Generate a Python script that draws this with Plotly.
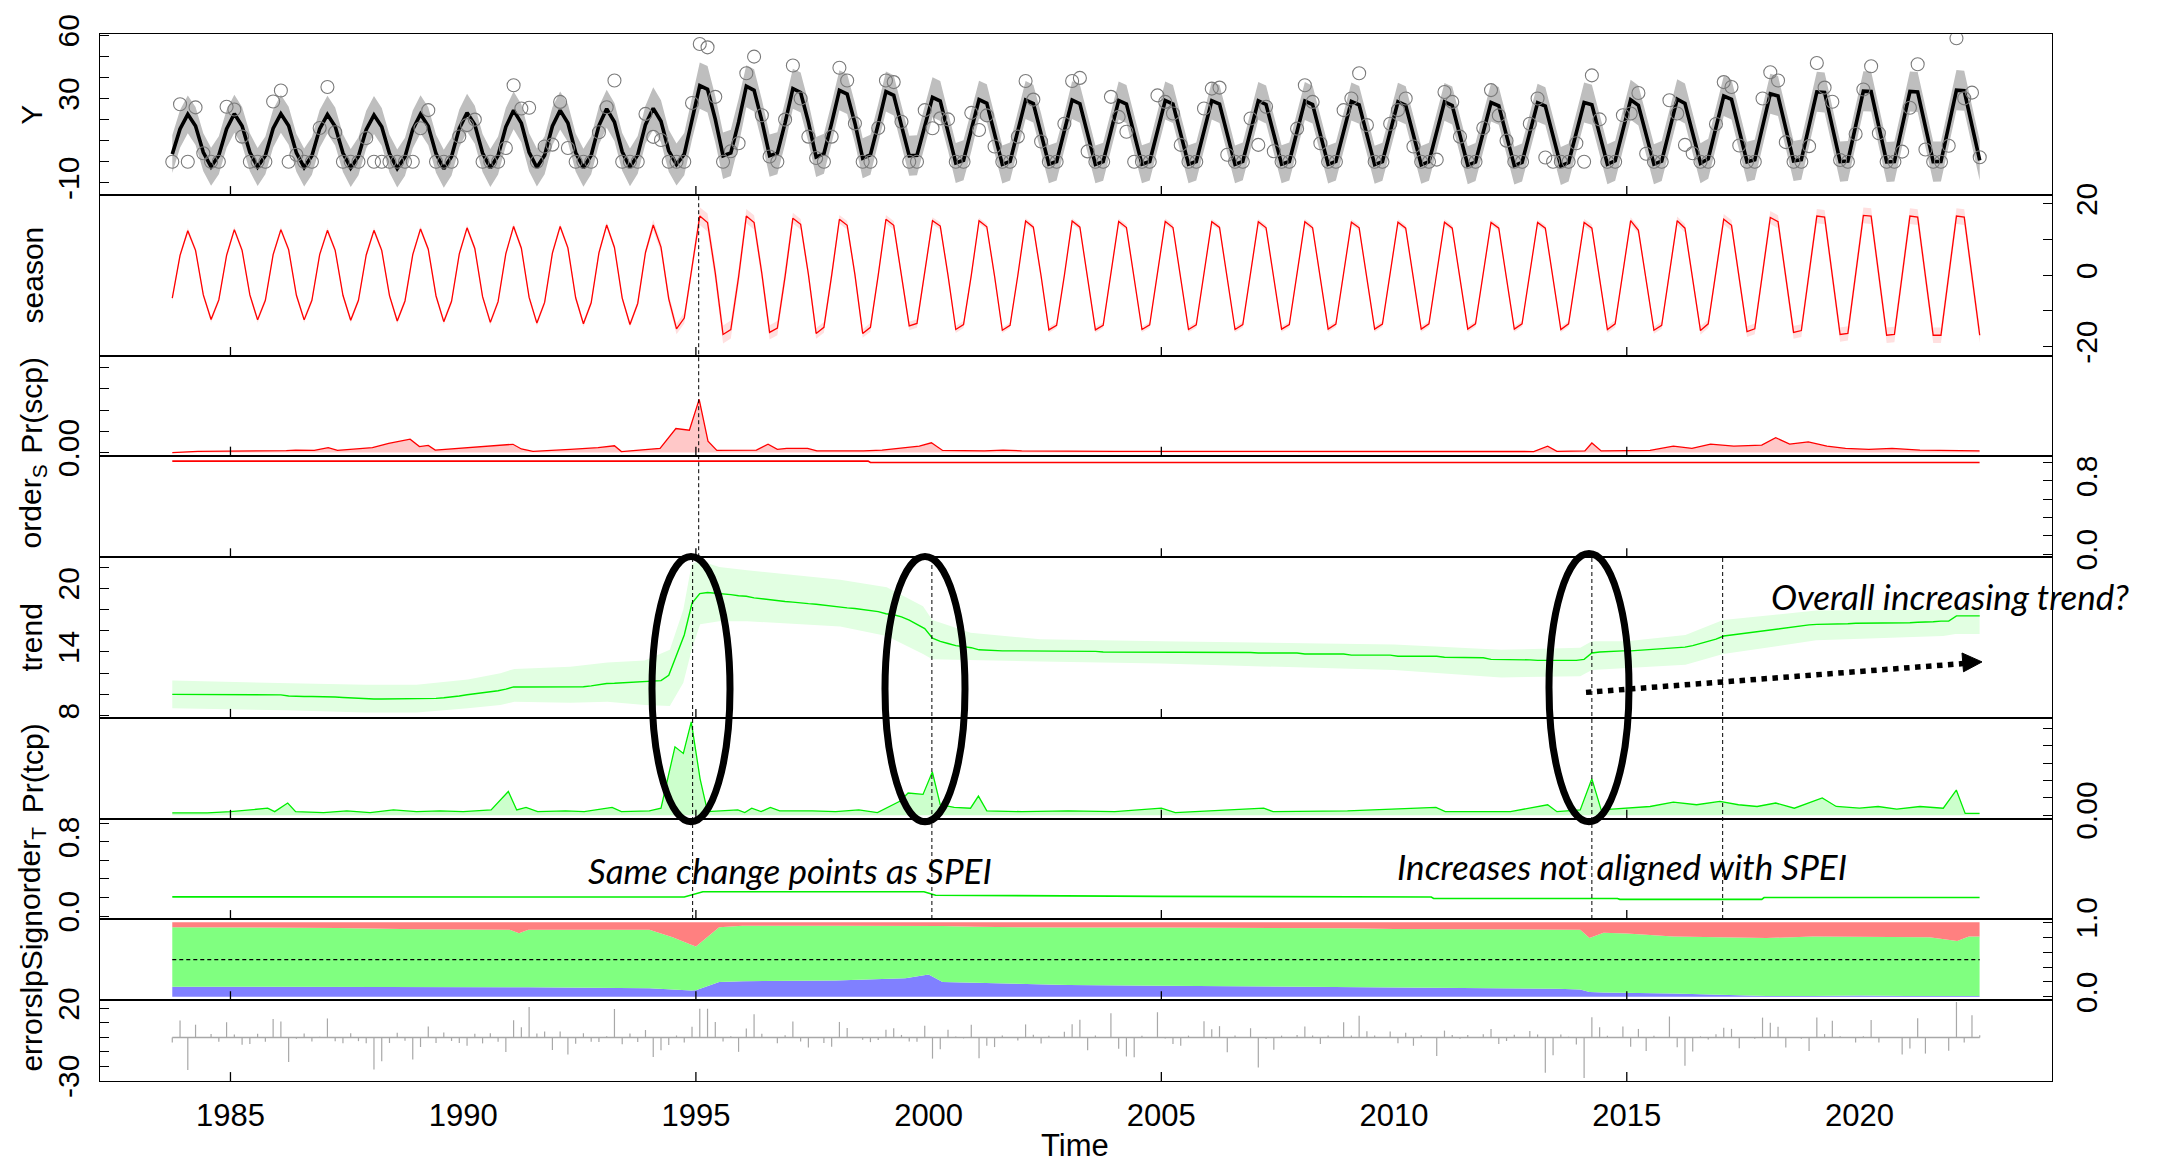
import numpy as np
import plotly.graph_objects as go

# ---------------- DATA ----------------
T_START = 1983.75          # first observation (bimonthly series)
STEP = 1.0 / 6.0

# observations Y, one row per year; positions .083 .25 .417 .583 .75 .917
obs_rows = [
    [0, 27.3],                                  # 1983 (.75, .917)
    [0, 25.8, 4, 0, 0, 26.1],                   # 1984
    [24.8, 11.9, 0, 0, 0, 28.6],                # 1985
    [33.8, 0, 3.3, 0, 0, 16],                   # 1986
    [35.5, 14, 0, 0, 0, 11.2],                  # 1987
    [0, 0, 0, 0, 0, 0],                         # 1988
    [15.9, 24.5, 0, 0, 0, 12],                  # 1989
    [17.4, 20, 0, 0, 0, 6.5],                   # 1990
    [36.3, 25.3, 25.6, 0, 7.2, 8.1],            # 1991
    [28.4, 6.5, 0, 0, 0, 14],                   # 1992
    [25.9, 38.6, 0, 0, 0, 22.7],                # 1993
    [11.8, 10.3, 0, 0, 0, 27.9],                # 1994
    [55.9, 54.3, 30.8, 0, 5, 8.8],              # 1995
    [42, 49.9, 22.1, 2.5, 0, 20],               # 1996
    [45.7, 30, 11.9, 1.8, 0, 11.9],             # 1997
    [44.6, 38.6, 18.2, 0, 0, 16],               # 1998
    [38.6, 37.8, 19, 0, 0, 24.5],               # 1999
    [15.9, 20.6, 20.1, 0, 0, 23.2],             # 2000
    [15.1, 22, 7.2, 0, 0, 11.9],                # 2001
    [38.3, 29.5, 9.6, 0, 0, 18],                # 2002
    [38.3, 39.8, 4.9, 0, 0, 30.8],              # 2003
    [21.3, 14.2, 0, 0, 0, 31.5],                # 2004
    [28.4, 22.9, 8, 0, 0, 25.3],                # 2005
    [34.7, 35.2, 3.3, 0, 0, 20.5],              # 2006
    [8, 26.1, 5, 0, 0, 15.7],                   # 2007
    [36.3, 28.4, 8.8, 0, 0, 24.5],              # 2008
    [30, 42, 17.4, 0, 0, 18],                   # 2009
    [24.5, 30, 7.2, 0, 0, 1],                   # 2010
    [33.1, 28.4, 11.9, 0, 0, 16],               # 2011
    [34, 22, 10, 0, 0, 18],                     # 2012
    [30, 2, 0, 0, 0, 8.8],                      # 2013
    [0, 41, 20.1, 0, 0, 22.1],                  # 2014
    [22.9, 32.6, 3.8, 0, 0, 29.2],              # 2015
    [22.9, 8, 4, 0, 0, 17.9],                   # 2016
    [37.8, 35.5, 7.7, 0, 0, 30],                # 2017
    [42.5, 38.6, 9.3, 0, 0, 7.4],               # 2018
    [46.9, 35.2, 28.5, 0.8, 0, 13.2],           # 2019
    [34.3, 45.3, 13.5, 0, 0, 4.8],              # 2020
    [25.6, 46.3, 5.8, 0, 0, 7.6],               # 2021
    [58.6, 30.1, 32.8, 2.1],                    # 2022 (.083-.583)
]

# seasonal component
season_rows = [
    [-6.4, 5.6],
    [12.5, 7.0, -5.5, -12.4, -6.9, 5.6],
    [12.8, 7.0, -5.5, -12.5, -7.0, 5.8],
    [12.8, 7.2, -5.6, -12.5, -7.0, 5.8],
    [12.6, 7.0, -5.6, -12.6, -7.0, 5.7],
    [12.6, 7.0, -5.7, -12.8, -7.2, 5.8],
    [13.0, 7.3, -5.8, -13.0, -7.3, 6.0],
    [13.3, 7.5, -6.0, -13.2, -7.4, 6.1],
    [13.7, 7.6, -6.2, -13.4, -7.6, 6.2],
    [13.7, 7.7, -6.3, -13.6, -7.7, 6.3],
    [14.1, 7.8, -6.4, -13.8, -7.9, 6.4],
    [14.1, 7.9, -6.6, -15.0, -12.0, 2.0],
    [16.6, 14.8, 0.6, -16.6, -15.2, -0.5],
    [16.6, 14.8, 0.5, -16.0, -14.8, -0.3],
    [16.0, 14.3, 0.3, -16.3, -14.6, 0.0],
    [15.7, 14.0, 0.2, -16.3, -14.6, 0.0],
    [15.7, 14.0, 0.0, -14.2, -13.5, 0.3],
    [15.3, 13.8, 0.0, -15.2, -13.8, 0.0],
    [15.3, 13.6, -0.2, -15.4, -14.0, 0.0],
    [15.2, 13.5, -0.2, -15.3, -14.0, 0.0],
    [15.2, 13.5, -0.3, -15.3, -14.0, 0.1],
    [15.1, 13.4, -0.3, -15.2, -13.9, 0.1],
    [15.1, 13.4, -0.3, -15.2, -13.9, 0.1],
    [15.0, 13.4, -0.4, -15.2, -13.8, 0.2],
    [15.0, 13.3, -0.4, -15.1, -13.8, 0.2],
    [15.0, 13.3, -0.5, -15.1, -13.7, 0.2],
    [14.9, 13.3, -0.5, -15.1, -13.7, 0.3],
    [14.9, 13.2, -0.6, -15.1, -13.6, 0.3],
    [14.9, 13.2, -0.7, -15.1, -13.6, 0.4],
    [14.8, 13.2, -0.8, -15.1, -13.6, 0.4],
    [14.8, 13.2, -0.9, -15.2, -13.6, 0.5],
    [14.8, 13.2, -1.0, -15.2, -13.6, 0.5],
    [15.3, 12.6, -1.0, -15.4, -14.0, 0.3],
    [15.3, 13.2, -0.8, -15.5, -13.6, 0.5],
    [15.7, 14.0, -0.5, -15.8, -15.0, 0.3],
    [16.2, 15.0, 0.0, -16.0, -15.5, 0.3],
    [16.6, 16.3, 0.3, -16.6, -16.3, 0.0],
    [16.8, 16.6, 0.3, -16.8, -16.6, 0.0],
    [16.6, 16.3, 0.2, -16.8, -16.8, 0.0],
    [16.6, 16.3, 0.0, -16.8],
]

# trend component
trend_rows = [
    [10.0, 10.0],
    [10.0, 10.0, 10.0, 10.0, 10.0, 10.0],
    [10.0, 10.0, 10.0, 10.0, 10.0, 10.0],
    [9.95, 9.85, 9.8, 9.8, 9.8, 9.8],
    [9.78, 9.75, 9.7, 9.65, 9.6, 9.56],
    [9.56, 9.56, 9.56, 9.56, 9.56, 9.56],
    [9.56, 9.58, 9.62, 9.68, 9.75, 9.85],
    [9.97, 10.05, 10.15, 10.25, 10.34, 10.5],
    [10.7, 10.7, 10.7, 10.68, 10.68, 10.67],
    [10.66, 10.65, 10.65, 10.72, 10.8, 10.9],
    [11.03, 11.05, 11.1, 11.12, 11.15, 11.2],
    [11.25, 11.3, 11.8, 13.7, 15.6, 18.6],
    [19.5, 19.6, 19.55, 19.45, 19.4, 19.3],
    [19.25, 19.1, 19.0, 18.9, 18.85, 18.75],
    [18.7, 18.6, 18.55, 18.5, 18.4, 18.35],
    [18.2, 18.15, 18.1, 18.0, 17.9, 17.8],
    [17.6, 17.5, 17.3, 17.0, 16.6, 16.2],
    [15.3, 15.0, 14.8, 14.6, 14.5, 14.4],
    [14.2, 14.15, 14.1, 14.1, 14.1, 14.1],
    [14.1, 14.1, 14.1, 14.1, 14.1, 14.05],
    [14.05, 14.05, 14.05, 14.05, 14.0, 14.0],
    [14.0, 14.0, 14.0, 14.0, 14.0, 14.0],
    [14.0, 14.0, 14.0, 14.0, 14.0, 14.0],
    [14.0, 14.0, 13.95, 13.95, 13.95, 13.95],
    [13.9, 13.9, 13.9, 13.9, 13.9, 13.9],
    [13.8, 13.8, 13.8, 13.8, 13.8, 13.8],
    [13.7, 13.7, 13.7, 13.7, 13.7, 13.7],
    [13.6, 13.6, 13.6, 13.6, 13.6, 13.6],
    [13.5, 13.5, 13.5, 13.45, 13.45, 13.45],
    [13.3, 13.3, 13.3, 13.25, 13.25, 13.25],
    [13.2, 13.2, 13.2, 13.2, 13.2, 13.2],
    [13.3, 13.9, 14.0, 14.05, 14.05, 14.1],
    [14.1, 14.15, 14.2, 14.25, 14.3, 14.35],
    [14.4, 14.45, 14.6, 14.8, 15.0, 15.2],
    [15.5, 15.6, 15.7, 15.8, 15.9, 16.0],
    [16.1, 16.2, 16.3, 16.4, 16.5, 16.55],
    [16.6, 16.6, 16.6, 16.65, 16.65, 16.7],
    [16.7, 16.7, 16.7, 16.7, 16.7, 16.7],
    [16.75, 16.8, 16.8, 16.85, 16.9, 16.9],
    [17.4, 17.4, 17.4, 17.4],
]

# half-widths of the grey Y band and pink season band, per calendar year 1983..2022
y_band_half = [9, 9, 9, 9, 9, 9, 9, 9, 9, 9, 9, 10, 11, 10, 9.5, 9.5, 9.5, 9.5, 9, 9,
               9, 9, 9, 9, 9, 9, 9, 9, 9, 9, 9, 9.5, 9.5, 9.5, 9.5, 9.5, 9.5, 9.5, 9.5, 9.5]
season_band_half = [0.8, 0.8, 0.8, 0.8, 0.8, 0.8, 0.8, 0.8, 0.8, 0.8, 0.8, 1.5, 2.5, 2.0, 1.5,
                    1.2, 1.2, 1.0, 0.8, 0.8, 0.8, 0.8, 0.8, 0.8, 0.8, 0.8, 0.8, 0.8, 0.8, 0.8,
                    0.8, 1.0, 1.0, 1.2, 1.5, 1.8, 2.0, 2.2, 2.2, 2.2]

# trend credible band
trend_ci_t = [1983.75, 1986.2, 1987.9, 1989.0, 1990.1, 1990.8, 1991.1, 1992.3, 1993.1, 1993.9,
              1994.44, 1994.73, 1994.91, 1995.09, 1995.5, 1996.1, 1998.1, 1999.1, 1999.88,
              2000.08, 2000.9, 2002.4, 2005.0, 2010.0, 2012.3, 2014.0, 2014.25, 2015.0,
              2016.26, 2017.07, 2019.07, 2021.8, 2022.06, 2022.58]
trend_ci_lo = [8.7, 8.5, 8.3, 8.3, 8.7, 9.0, 9.3, 9.2, 9.3, 9.0, 8.9, 11.1, 14.2, 16.6, 16.9,
               16.9, 16.4, 15.5, 13.8, 13.3, 13.2, 13.1, 12.9, 12.3, 11.6, 11.7, 12.3, 12.5,
               12.8, 13.8, 15.1, 15.5, 15.7, 15.7]
trend_ci_hi = [11.3, 11.1, 10.9, 10.9, 11.4, 12.0, 12.4, 12.6, 13.0, 13.2, 14.2, 18.0, 22.3,
               22.6, 22.0, 21.7, 20.8, 20.1, 18.3, 17.0, 15.8, 15.2, 15.0, 14.7, 14.2, 14.4,
               15.0, 15.0, 15.6, 17.0, 17.9, 18.0, 18.1, 18.1]

# probability of seasonal change point
pscp_t = [1983.75, 1984.3, 1986.2, 1986.4, 1986.8, 1987.1, 1987.3, 1988.05, 1988.4, 1988.86,
          1989.06, 1989.25, 1989.4, 1990.5, 1991.07, 1991.25, 1991.5, 1992.3, 1992.9, 1993.25,
          1993.4, 1994.23, 1994.57, 1994.86, 1995.07, 1995.26, 1995.45, 1996.3, 1996.55,
          1996.75, 1996.95, 1997.4, 1997.6, 1998.6, 1999.0, 1999.8, 2000.06, 2000.3, 2001.2,
          2001.6, 2002.0, 2004.0, 2008.0, 2013.0, 2013.3, 2013.5, 2014.1, 2014.25, 2014.45,
          2015.5, 2016.0, 2016.4, 2016.8, 2017.3, 2017.9, 2018.2, 2018.5, 2018.9, 2019.3,
          2019.7, 2020.2, 2020.7, 2021.3, 2022.0, 2022.58]
pscp_v = [0.0, 0.006, 0.009, 0.012, 0.01, 0.023, 0.01, 0.023, 0.043, 0.063, 0.028, 0.034,
          0.012, 0.032, 0.039, 0.017, 0.006, 0.015, 0.023, 0.032, 0.005, 0.02, 0.113, 0.105,
          0.25, 0.054, 0.01, 0.012, 0.039, 0.015, 0.02, 0.02, 0.008, 0.008, 0.012, 0.03,
          0.046, 0.01, 0.008, 0.012, 0.008, 0.006, 0.005, 0.005, 0.03, 0.006, 0.008, 0.045,
          0.008, 0.01, 0.03, 0.02, 0.04, 0.03, 0.035, 0.07, 0.04, 0.05, 0.03, 0.02, 0.015,
          0.02, 0.012, 0.01, 0.008]

# seasonal harmonic order
orders_t = [1983.75, 1998.7, 1998.75, 2022.58]
orders_v = [1.015, 1.015, 1.0, 1.0]

# probability of trend change point
ptcp_t = [1983.75, 1984.5, 1985.0, 1985.8, 1985.95, 1986.23, 1986.4, 1987.0, 1987.5, 1988.0,
          1988.5, 1989.0, 1989.5, 1990.0, 1990.6, 1990.97, 1991.15, 1991.35, 1991.6, 1992.2,
          1992.6, 1993.2, 1993.4, 1994.0, 1994.25, 1994.55, 1994.73, 1994.9, 1995.09, 1995.25,
          1995.9, 1996.05, 1996.2, 1996.4, 1996.6, 1996.8, 1997.5, 1998.0, 1998.5, 1998.9,
          1999.38, 1999.56, 1999.88, 2000.08, 2000.25, 2000.55, 2000.9, 2001.07, 2001.25,
          2002.0, 2003.0, 2004.0, 2005.0, 2005.3, 2007.2, 2007.4, 2009.0, 2010.9, 2011.1,
          2012.5, 2013.3, 2013.5, 2014.0, 2014.25, 2014.45, 2015.0, 2015.5, 2016.0, 2016.5,
          2017.0, 2017.4, 2017.8, 2018.2, 2018.6, 2019.2, 2019.5, 2020.0, 2020.4, 2020.8,
          2021.3, 2021.8, 2022.08, 2022.27, 2022.58]
ptcp_v = [0.013, 0.013, 0.02, 0.04, 0.02, 0.07, 0.02, 0.015, 0.025, 0.015, 0.03, 0.02, 0.025,
          0.02, 0.03, 0.137, 0.03, 0.045, 0.02, 0.025, 0.02, 0.045, 0.02, 0.025, 0.04, 0.395,
          0.357, 0.54, 0.21, 0.02, 0.03, 0.015, 0.04, 0.02, 0.045, 0.025, 0.025, 0.02, 0.03,
          0.015, 0.08, 0.128, 0.12, 0.25, 0.06, 0.045, 0.04, 0.11, 0.025, 0.02, 0.025, 0.02,
          0.04, 0.015, 0.04, 0.02, 0.025, 0.045, 0.02, 0.02, 0.06, 0.02, 0.03, 0.21, 0.03,
          0.04, 0.05, 0.075, 0.06, 0.08, 0.06, 0.05, 0.07, 0.04, 0.1, 0.05, 0.04, 0.05, 0.035,
          0.05, 0.04, 0.145, 0.01, 0.01]

# trend polynomial order
ordert_t = [1983.75, 1985.1, 1985.2, 1994.75, 1995.15, 1999.9, 2000.15, 2001.5, 2005.0,
            2010.8, 2010.85, 2014.8, 2014.85, 2017.9, 2017.95, 2022.58]
ordert_v = [0.207, 0.207, 0.2, 0.205, 0.262, 0.262, 0.225, 0.22, 0.212, 0.205, 0.19, 0.19,
            0.18, 0.18, 0.2, 0.2]

# slope-sign probabilities (negative = blue, positive = red, remainder zero = green)
slp_t = [1983.75, 1986.0, 1987.3, 1989.0, 1991.0, 1991.2, 1991.4, 1994.0, 1994.5, 1994.9,
         1995.0, 1995.5, 1996.0, 1998.0, 1999.5, 2000.0, 2000.3, 2001.0, 2002.0, 2003.0,
         2005.0, 2006.0, 2009.0, 2010.0, 2011.0, 2013.5, 2014.0, 2014.2, 2014.5, 2015.0,
         2016.0, 2017.0, 2018.0, 2019.0, 2020.0, 2021.0, 2021.5, 2022.1, 2022.35, 2022.58]
slp_neg = [0.137, 0.137, 0.13, 0.128, 0.128, 0.128, 0.128, 0.115, 0.095, 0.085, 0.09, 0.2,
           0.21, 0.22, 0.25, 0.30, 0.20, 0.19, 0.17, 0.16, 0.15, 0.146, 0.135, 0.13, 0.124,
           0.11, 0.1, 0.066, 0.06, 0.057, 0.044, 0.027, 0.013, 0.013, 0.02, 0.013, 0.013,
           0.012, 0.012, 0.012]
slp_pos = [0.066, 0.066, 0.075, 0.093, 0.1, 0.146, 0.1, 0.1, 0.2, 0.3, 0.323, 0.066, 0.044,
           0.044, 0.044, 0.044, 0.05, 0.06, 0.07, 0.07, 0.07, 0.07, 0.08, 0.09, 0.09, 0.1,
           0.1, 0.21, 0.14, 0.15, 0.19, 0.2, 0.21, 0.19, 0.19, 0.19, 0.2, 0.25, 0.19, 0.19]

# detected change points
season_cp = [1995.06]
trend_cp = [1994.93, 2000.07, 2014.25, 2017.06]

# axis ticks / labels
x_label_years = [1985, 1990, 1995, 2000, 2005, 2010, 2015, 2020]
x_tick_years = [1985, 1995, 2005, 2015]
panel_names = ["Y", "season", "Pr(scp)", "order<sub>S</sub>", "trend", "Pr(tcp)",
               "order<sub>T</sub>", "slpSign", "error"]
# labelled y ticks per panel, and spacing of the unlabelled ticks between them
y_label_vals = [[-10, 30, 60], [-20, 0, 20], [0], [0, 0.8], [8, 14, 20], [0], [0, 0.8],
                [0, 1.0], [-30, 20]]
y_label_text = [["-10", "30", "60"], ["-20", "0", "20"], ["0.00"], ["0.0", "0.8"],
                ["8", "14", "20"], ["0.00"], ["0.0", "0.8"], ["0.0", "1.0"], ["-30", "20"]]
y_tick_step = [10, 10, 0.1, 0.2, 2, 0.1, 0.2, 0.2, 10]

# ---------------- derived series ----------------
obs = np.array([v for r in obs_rows for v in r], dtype=float)
season = np.array([v for r in season_rows for v in r], dtype=float)
trend = np.array([v for r in trend_rows for v in r], dtype=float)
n = len(season)
t = T_START + np.arange(n) * STEP
year_idx = np.floor(t + 1e-6).astype(int) - 1983
fitted = season + trend
yb = np.array(y_band_half)[year_idx]
sb = np.array(season_band_half)[year_idx]
err = obs - fitted

# ---------------- layout geometry (pixels) ----------------
W, H = 2161, 1163
ML, MR, MT, MB = 100, 109, 23, 82
PW, PH = W - ML - MR, H - MT - MB
edges = [23.3, 185.7, 348.3, 449.0, 551.7, 714.0, 816.0, 917.3, 999.3, 1081.0]
XR = [1982.197, 2024.136]
y_ranges = [[-15.8, 60.5], [-22.6, 22.5], [-0.014, 0.454], [-0.032, 1.075],
            [7.79, 22.93], [-0.021, 0.563], [-0.032, 1.05], [-0.044, 1.045], [-30.2, 25.8]]
sides = ["left", "right", "left", "right", "left", "right", "left", "right", "left"]


def py(p):  # pixel row -> paper y
    return (H - MB - p) / PH


def px(p):  # pixel column -> paper x
    return (p - ML) / PW


FONT = "Liberation Sans, Arial, sans-serif"
fig = go.Figure()


def ax(k):
    return ("x" if k == 1 else f"x{k}"), ("y" if k == 1 else f"y{k}")


def add(k, **kw):
    xa, ya = ax(k)
    kw.setdefault("hoverinfo", "skip")
    kw.setdefault("showlegend", False)
    fig.add_trace(go.Scatter(xaxis=xa, yaxis=ya, **kw))


# Panel 1: Y
add(1, x=np.concatenate([t, t[::-1]]), y=np.concatenate([fitted + yb, (fitted - yb)[::-1]]),
    fill="toself", fillcolor="#BEBEBE", line=dict(width=0), mode="lines")
add(1, x=t, y=fitted, mode="lines", line=dict(color="black", width=3.6))
add(1, x=t, y=obs, mode="markers",
    marker=dict(symbol="circle-open", size=13, color="#7A7A7A", line=dict(width=1.1, color="#7A7A7A")))
# Panel 2: season
add(2, x=np.concatenate([t, t[::-1]]), y=np.concatenate([season + sb, (season - sb)[::-1]]),
    fill="toself", fillcolor="#FFE0E0", line=dict(width=0), mode="lines")
add(2, x=t, y=season, mode="lines", line=dict(color="#FF0000", width=1.3))
# Panel 3: Pr(scp)
add(3, x=pscp_t, y=pscp_v, mode="lines", fill="tozeroy", fillcolor="#FFC8C8",
    line=dict(color="#FF0000", width=1.3))
# Panel 4: order S
add(4, x=orders_t, y=orders_v, mode="lines", line=dict(color="#FF0000", width=1.6))
# Panel 5: trend
add(5, x=trend_ci_t + trend_ci_t[::-1], y=trend_ci_hi + trend_ci_lo[::-1],
    fill="toself", fillcolor="#E2FFE2", line=dict(width=0), mode="lines")
add(5, x=t, y=trend, mode="lines", line=dict(color="#00EE00", width=1.4))
# Panel 6: Pr(tcp)
add(6, x=ptcp_t, y=ptcp_v, mode="lines", fill="tozeroy", fillcolor="#CCFFCC",
    line=dict(color="#00EE00", width=1.3))
# Panel 7: order T
add(7, x=ordert_t, y=ordert_v, mode="lines", line=dict(color="#00EE00", width=1.6))
# Panel 8: slope sign
slp_neg_a = np.array(slp_neg)
slp_top_zero = 1.0 - np.array(slp_pos)
add(8, x=slp_t, y=slp_neg_a, mode="lines", fill="tozeroy", fillcolor="#8080FF", line=dict(width=0))
add(8, x=slp_t, y=slp_top_zero, mode="lines", fill="tonexty", fillcolor="#80FF80", line=dict(width=0))
add(8, x=slp_t, y=np.ones(len(slp_t)), mode="lines", fill="tonexty", fillcolor="#FF8080",
    line=dict(width=0))
add(8, x=[t[0], t[-1]], y=[0.5, 0.5], mode="lines", line=dict(color="black", width=1.2, dash="4px,3px"))
# Panel 9: error
ex, ey = [], []
for ti, ei in zip(t, err):
    ex += [ti, ti, None]
    ey += [0, ei, None]
add(9, x=ex, y=ey, mode="lines", line=dict(color="#A8A8A8", width=1.2))
add(9, x=[t[0], t[-1]], y=[0, 0], mode="lines", line=dict(color="#A8A8A8", width=1.5))

# ---------------- axes ----------------
layout = dict(width=W, height=H, margin=dict(l=ML, r=MR, t=MT, b=MB),
              paper_bgcolor="white", plot_bgcolor="white", showlegend=False,
              font=dict(family=FONT, color="black"))
for k in range(1, 10):
    top, bot = edges[k - 1], edges[k]
    xa, ya = ax(k)
    xkey = "xaxis" if k == 1 else f"xaxis{k}"
    ykey = "yaxis" if k == 1 else f"yaxis{k}"
    layout[xkey] = dict(domain=[0, 1], range=XR, anchor=ya, showline=True, mirror=True,
                        linecolor="black", linewidth=1, showgrid=False, zeroline=False,
                        ticks="", showticklabels=(k == 9), tickmode="array",
                        tickvals=x_label_years, ticktext=[str(v) for v in x_label_years],
                        tickfont=dict(size=31, family=FONT), ticklabelstandoff=7)
    layout[ykey] = dict(domain=[py(bot), py(top)], range=y_ranges[k - 1], anchor=xa,
                        side=sides[k - 1], showline=True, mirror=True, linecolor="black",
                        linewidth=1, showgrid=False, zeroline=False, ticks="inside",
                        ticklen=9, tickwidth=1.2, tickcolor="black", tickmode="array",
                        tickvals=y_label_vals[k - 1], ticktext=y_label_text[k - 1],
                        tickangle=-90, tickfont=dict(size=30, family=FONT),
                        ticklabelstandoff=8,
                        minor=dict(ticks="inside", ticklen=9, tickwidth=1.2, tickcolor="black",
                                   tickmode="linear", tick0=0, dtick=y_tick_step[k - 1],
                                   showgrid=False))
fig.update_layout(**layout)

shapes = []
# inward x ticks at the bottom of every panel
for k in range(1, 10):
    bot = edges[k]
    for yv in x_tick_years:
        shapes.append(dict(type="line", xref="x", yref="paper", x0=yv, x1=yv,
                           y0=py(bot), y1=py(bot - 9), line=dict(color="black", width=1.3)))
# change-point dashed lines
for cp in season_cp:
    shapes.append(dict(type="line", xref="x", yref="paper", x0=cp, x1=cp,
                       y0=py(edges[4]), y1=py(edges[1]),
                       line=dict(color="black", width=1, dash="4px,3px")))
for cp in trend_cp:
    shapes.append(dict(type="line", xref="x", yref="paper", x0=cp, x1=cp,
                       y0=py(edges[7]), y1=py(edges[4]),
                       line=dict(color="black", width=1, dash="4px,3px")))
# hand-drawn ellipses
for (x0, x1, y0, y1) in [(652, 730, 551, 819), (885, 965, 551, 819), (1549, 1629, 548, 819)]:
    shapes.append(dict(type="circle", xref="paper", yref="paper", x0=px(x0), x1=px(x1),
                       y0=py(y1), y1=py(y0), line=dict(color="black", width=7)))
# dotted arrow
shapes.append(dict(type="line", xref="paper", yref="paper", x0=px(1586), y0=py(688.3),
                   x1=px(1963), y1=py(659.2), line=dict(color="black", width=5.5, dash="dot")))
shapes.append(dict(type="path", xref="paper", yref="paper",
                   path=f"M {px(1982)},{py(657.5)} L {px(1962)},{py(648.5)} L {px(1963.5)},{py(667.5)} Z",
                   fillcolor="black", line=dict(color="black", width=1)))
fig.update_layout(shapes=shapes)

ann = []
for k in range(1, 10):
    mid = (edges[k - 1] + edges[k]) / 2
    ann.append(dict(text=panel_names[k - 1], xref="paper", yref="paper", x=px(32), y=py(mid),
                    xanchor="center", yanchor="middle", textangle=-90, showarrow=False,
                    font=dict(size=30, family=FONT, color="black")))
ann.append(dict(text="Time", xref="paper", yref="paper", x=px(1075), y=py(1146.5),
                xanchor="center", yanchor="middle", showarrow=False,
                font=dict(size=31, family=FONT, color="black")))
NOTE_FONT = dict(size=35, family="Lato, Open Sans, sans-serif", color="black", style="italic")
for txt, cx, cy in [("Same change points as SPEI", 790, 868),
                    ("Increases not aligned with SPEI", 1622, 864),
                    ("Overall increasing trend?", 1950, 591)]:
    ann.append(dict(text=txt, xref="paper", yref="paper", x=px(cx), y=py(cy),
                    xanchor="center", yanchor="middle", showarrow=False, font=NOTE_FONT))
fig.update_layout(annotations=ann)

fig.write_html("out.html", config={"displayModeBar": False},
               post_script="document.body.style.margin='0px';document.body.style.overflow='hidden';")
